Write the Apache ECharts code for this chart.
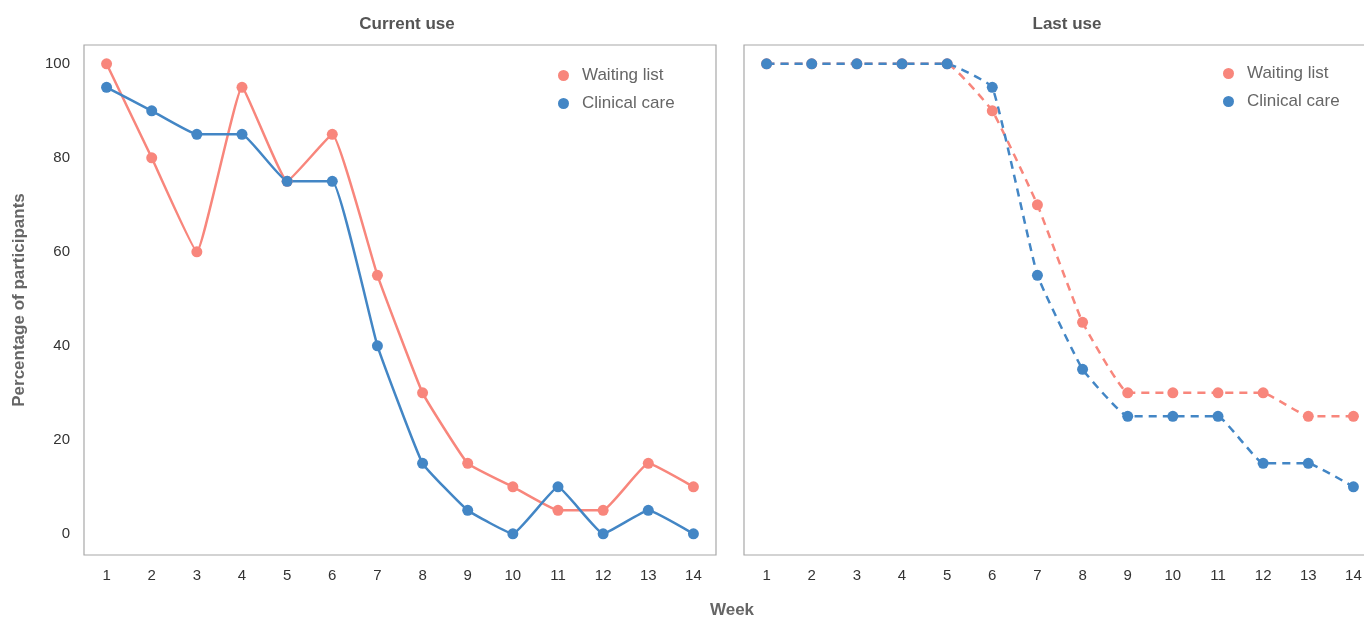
<!DOCTYPE html>
<html>
<head>
<meta charset="utf-8">
<script src="https://cdn.jsdelivr.net/npm/echarts@6/dist/echarts.min.js"></script>
<style>html,body{margin:0;padding:0;background:#fff}#c{width:1364px;height:619px}</style>
</head>
<body>
<div id="c"></div>
<script>
var weeks = ['1','2','3','4','5','6','7','8','9','10','11','12','13','14'];
var currentWaiting = [100, 80, 60, 95, 75, 85, 55, 30, 15, 10, 5, 5, 15, 10];
var currentClinical = [95, 90, 85, 85, 75, 75, 40, 15, 5, 0, 10, 0, 5, 0];
var lastWaiting = [100, 100, 100, 100, 100, 90, 70, 45, 30, 30, 30, 30, 25, 25];
var lastClinical = [100, 100, 100, 100, 100, 95, 55, 35, 25, 25, 25, 15, 15, 10];
var yTicks = [0, 20, 40, 60, 80, 100];
var panelTitles = ['Current use', 'Last use'];

var RED = '#F8867C', BLUE = '#4386C5';
var FONT = '"Liberation Sans", Arial, sans-serif';

function mkX(i) {
  return {
    type: 'category', gridIndex: i, data: weeks, boundaryGap: true,
    axisLine: {show: false}, axisTick: {show: false}, splitLine: {show: false},
    axisLabel: {color: '#333', fontSize: 15, fontFamily: FONT, margin: 13}
  };
}
function mkY(i) {
  return {
    type: 'value', gridIndex: i, min: -4.5, max: 104,
    axisLine: {show: false}, axisTick: {show: false}, splitLine: {show: false},
    axisLabel: {show: i === 0, customValues: yTicks, color: '#333', fontSize: 15, fontFamily: FONT, margin: 14}
  };
}
function mkS(name, data, color, i, dashed) {
  return {
    type: 'line', name: name, xAxisIndex: i, yAxisIndex: i, data: data,
    smooth: 0.1, symbol: 'circle', symbolSize: 11, showSymbol: true,
    itemStyle: {color: color},
    lineStyle: {color: color, width: 2.5, type: dashed ? [8, 6] : 'solid'},
    emphasis: {disabled: true}, animation: false
  };
}
function mkLegend(left, top) {
  return {
    orient: 'vertical', left: left, top: top, icon: 'circle', itemWidth: 11, itemHeight: 11,
    itemGap: 11, data: ['Waiting list', 'Clinical care'],
    textStyle: {color: '#666', fontSize: 17, fontFamily: FONT, padding: [0, 0, 0, 8]}
  };
}

var chart = echarts.init(document.getElementById('c'));
chart.setOption({
  animation: false,
  grid: [
    {left: 84, top: 45, width: 632, height: 510, show: true, borderColor: '#a8a8a8', borderWidth: 1.2, backgroundColor: '#fff', outerBoundsMode: 'none', containLabel: false},
    {left: 744, top: 45, width: 632, height: 510, show: true, borderColor: '#a8a8a8', borderWidth: 1.2, backgroundColor: '#fff', outerBoundsMode: 'none', containLabel: false}
  ],
  xAxis: [mkX(0), mkX(1)],
  yAxis: [mkY(0), mkY(1)],
  legend: [mkLegend(553, 62), mkLegend(1218, 60)],
  series: [
    mkS('Waiting list', currentWaiting, RED, 0, false),
    mkS('Clinical care', currentClinical, BLUE, 0, false),
    mkS('Waiting list', lastWaiting, RED, 1, true),
    mkS('Clinical care', lastClinical, BLUE, 1, true)
  ],
  graphic: [
    {type: 'text', x: 407, y: 24, style: {text: panelTitles[0], fill: '#555', font: 'bold 17px ' + FONT, align: 'center', verticalAlign: 'middle'}},
    {type: 'text', x: 1067, y: 24, style: {text: panelTitles[1], fill: '#555', font: 'bold 17px ' + FONT, align: 'center', verticalAlign: 'middle'}},
    {type: 'text', x: 732, y: 610, style: {text: 'Week', fill: '#666', font: 'bold 17px ' + FONT, align: 'center', verticalAlign: 'middle'}},
    {type: 'text', x: 19, y: 300, rotation: Math.PI / 2, style: {text: 'Percentage of participants', fill: '#666', font: 'bold 17px ' + FONT, align: 'center', verticalAlign: 'middle'}}
  ]
});
</script>
</body>
</html>
